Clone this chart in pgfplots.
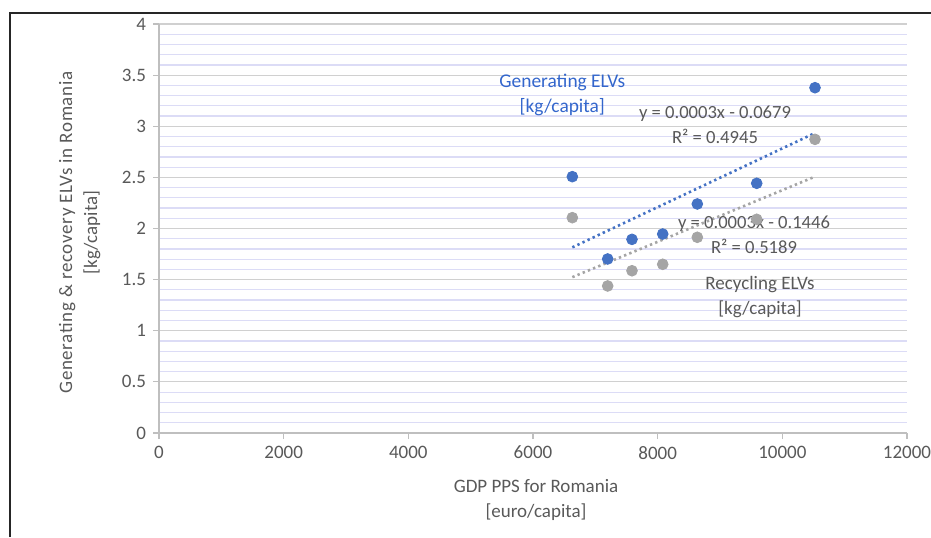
\documentclass[border=0pt]{standalone}
\usepackage{fontspec}
\setmainfont{Carlito}
\usepackage{pgfplots}
\usepackage{pgfplotstable}
\pgfplotsset{compat=1.18}

\definecolor{genblue}{HTML}{4472C4}
\definecolor{recgray}{HTML}{A5A5A5}
\definecolor{txtgray}{HTML}{595959}
\definecolor{majgrid}{HTML}{D0D0D0}
\definecolor{mingrid}{HTML}{DCDCF6}
\definecolor{axisgray}{HTML}{BFBFBF}
\definecolor{labelblue}{HTML}{3366CC}

% GDP PPS [euro/capita], generated and recycled ELVs [kg/capita]
\pgfplotstableread{
gdp    gen    rec
6631   2.507  2.106
7198   1.702  1.438
7588   1.894  1.587
8081   1.946  1.650
8636   2.240  1.914
9589   2.442  2.090
10524  3.377  2.872
}\elvdata

\begin{document}
\begin{tikzpicture}
\begin{axis}[
  at={(79.5pt,52pt)}, anchor=south west,
  scale only axis, width=374pt, height=204.5pt,
  xmin=0, xmax=12000, ymin=0, ymax=4,
  xtick={0,2000,...,12000}, ytick={0,0.5,...,4},
  scaled ticks=false,
  minor y tick num=4,
  ymajorgrids, yminorgrids,
  major grid style={majgrid, line width=0.6pt},
  minor grid style={mingrid, line width=0.6pt},
  axis lines=left, axis line style={-, axisgray, line width=0.6pt},
  tick align=outside, major tick length=3pt, minor tick length=0pt,
  tick style={axisgray, line width=0.6pt},
  /pgf/number format/assume math mode=true,
  /pgf/number format/1000 sep={},
  ticklabel style={font=\fontsize{9.5}{11}\selectfont, text=txtgray},
  label style={font=\fontsize{9.5}{12.4}\selectfont, text=txtgray, align=center},
  xlabel={GDP PPS for Romania\\{}[euro/capita]},
  ylabel={{\addfontfeature{LetterSpace=3.5}Generating \& recovery ELVs in Romania}\\{}[kg/capita]},
  xlabel style={at={(axis description cs:0.504,-0.164)}, anchor=center},
  ylabel style={at={(axis description cs:-0.106,0.49)}, anchor=center},
]
% trend lines fitted to each series
\addplot[genblue, line width=1.3pt, dash pattern=on 1.2pt off 1.6pt]
  table[x=gdp, y={create col/linear regression={y=gen}}] {\elvdata};
\addplot[recgray, line width=1.3pt, dash pattern=on 1.2pt off 1.6pt]
  table[x=gdp, y={create col/linear regression={y=rec}}] {\elvdata};
% observations
\addplot[only marks, mark=*, mark size=2.7pt, mark options={fill=recgray, draw=recgray}]
  table[x=gdp, y=rec] {\elvdata};
\addplot[only marks, mark=*, mark size=2.7pt, mark options={fill=genblue, draw=genblue}]
  table[x=gdp, y=gen] {\elvdata};
% labels
\node[align=center, text=labelblue, font=\fontsize{9.7}{12.5}\selectfont]
  at (axis cs:6470,3.31) {Generating ELVs\\{}[kg/capita]};
\node[align=center, text=txtgray, font=\fontsize{9.3}{12.5}\selectfont]
  at (axis cs:8920,3.017) {y = 0.0003x - 0.0679\\R² = 0.4945};
\node[align=center, text=txtgray, font=\fontsize{9.3}{12.5}\selectfont]
  at (axis cs:9546,1.941) {y = 0.0003x - 0.1446\\R² = 0.5189};
\node[align=center, text=txtgray, font=\fontsize{9.5}{12.5}\selectfont]
  at (axis cs:9642,1.330) {Recycling ELVs\\{}[kg/capita]};
\end{axis}
\draw[line width=1pt, black!85] (5pt,0pt) -- (5pt,262pt) -- (470pt,262pt);
\pgfresetboundingbox
\path (0pt,0pt) rectangle (465.5pt,268.5pt);
\end{tikzpicture}
\end{document}
